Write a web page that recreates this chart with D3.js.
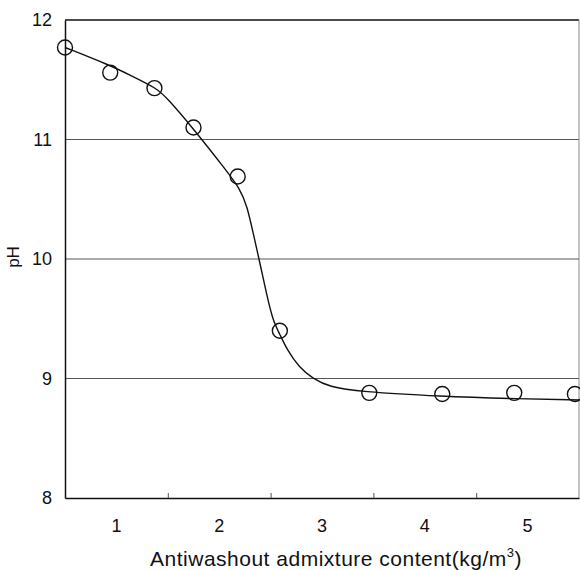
<!DOCTYPE html>
<html>
<head>
<meta charset="utf-8">
<script src="https://cdn.jsdelivr.net/npm/d3@7"></script>
<style>
  body { margin: 0; background: #fff; }
  svg { font-family: "Liberation Sans", Arial, sans-serif; }
</style>
</head>
<body>
<div id="chart"></div>
<script>
// measured points (admixture content kg/m3, pH)
var pointX = [0.5, 0.94, 1.37, 1.75, 2.18, 2.59, 3.46, 4.17, 4.87, 5.46];
var pointY = [11.77, 11.56, 11.43, 11.10, 10.69, 9.40, 8.88, 8.87, 8.88, 8.87];

// fitted curve
var curveX = [0.5, 0.5, 0.94, 1.13, 1.39, 1.49, 1.74, 2.07, 2.20, 2.27, 2.34, 2.39, 2.46, 2.52, 2.59, 2.66, 2.78, 2.91, 3.07, 3.36, 4.15, 4.92, 5.5, 5.5];
var curveY = [11.77, 11.77, 11.62, 11.54, 11.43, 11.35, 11.10, 10.74, 10.59, 10.45, 10.18, 9.99, 9.71, 9.49, 9.37, 9.24, 9.09, 9.00, 8.93, 8.89, 8.85, 8.83, 8.82, 8.82];

var xLabels = [1, 2, 3, 4, 5];
var xMinorTicks = [1.5, 2.5, 3.5, 4.5];
var yLabels = [8, 9, 10, 11, 12];
var gridValues = [9, 10, 11];

var margin = { top: 20, right: 1, bottom: 72, left: 65 },
  width = 580 - margin.left - margin.right,
  height = 570 - margin.top - margin.bottom;

var svg = d3.select('#chart')
  .append('svg')
  .attr('width', 580)
  .attr('height', 570)
  .append('g')
  .attr('transform', `translate(${margin.left},${margin.top})`);

var x = d3.scaleLinear().domain([0.5, 5.5]).range([0, width]);
var y = d3.scaleLinear().domain([8, 12]).range([height, 0]);

// grid lines
svg.append('g')
  .selectAll('line')
  .data(gridValues)
  .join('line')
  .attr('x1', 0)
  .attr('x2', width)
  .attr('y1', d => y(d))
  .attr('y2', d => y(d))
  .attr('stroke', '#555')
  .attr('stroke-width', 1);

// frame
svg.append('line').attr('x1', 0).attr('x2', width).attr('y1', 0).attr('y2', 0)
  .attr('stroke', '#111').attr('stroke-width', 1.5);
svg.append('line').attr('x1', width).attr('x2', width).attr('y1', 0).attr('y2', height)
  .attr('stroke', '#888').attr('stroke-width', 1);

// x axis: labels on integers, small inward ticks at halves
var xAxis = d3.axisBottom(x).tickValues(xMinorTicks).tickSizeInner(-5).tickSizeOuter(0).tickFormat('');
svg.append('g')
  .attr('class', 'x axis')
  .attr('transform', `translate(0,${height})`)
  .call(xAxis)
  .call(g => g.select('.domain').attr('stroke', '#111').attr('stroke-width', 1.5))
  .call(g => g.selectAll('.tick line').attr('stroke', '#555'));

svg.append('g')
  .selectAll('text')
  .data(xLabels)
  .join('text')
  .attr('x', d => x(d))
  .attr('y', height + 34)
  .attr('text-anchor', 'middle')
  .attr('font-size', 18)
  .attr('fill', '#111')
  .text(d => d);

// y axis
var yAxis = d3.axisLeft(y).tickValues(yLabels).tickSize(0).tickPadding(13).tickFormat(d3.format('d'));
svg.append('g')
  .attr('class', 'y axis')
  .call(yAxis)
  .call(g => g.select('.domain').attr('stroke', '#111').attr('stroke-width', 1.5))
  .call(g => g.selectAll('.tick text').attr('font-size', 18).attr('fill', '#111')
    .attr('font-family', '"Liberation Sans", Arial, sans-serif'));

// fitted curve
var pts = curveX.map((v, i) => [v, curveY[i]]);
var line = d3.line()
  .x(d => x(d[0]))
  .y(d => y(d[1]))
  .curve(d3.curveBasis);

svg.append('path')
  .attr('d', line(pts))
  .attr('fill', 'none')
  .attr('stroke', '#111')
  .attr('stroke-width', 1.4);

// markers
svg.append('g')
  .selectAll('circle')
  .data(pointX.map((v, i) => [v, pointY[i]]))
  .join('circle')
  .attr('cx', d => x(d[0]))
  .attr('cy', d => y(d[1]))
  .attr('r', 7.5)
  .attr('fill', 'none')
  .attr('stroke', '#111')
  .attr('stroke-width', 1.4);

// axis titles
svg.append('text')
  .attr('x', 336 - margin.left)
  .attr('y', height + 68)
  .attr('text-anchor', 'middle')
  .attr('font-size', 21)
  .attr('letter-spacing', 0.5)
  .attr('fill', '#111')
  .text('Antiwashout admixture content(kg/m')
  .append('tspan')
  .attr('dy', -9)
  .attr('font-size', 13)
  .text('3')
  .clone(true)
  .attr('dy', 9)
  .attr('font-size', 21)
  .text(')');

svg.append('text')
  .attr('transform', 'rotate(-90)')
  .attr('x', -(257 - margin.top))
  .attr('y', -margin.left + 18.5)
  .attr('text-anchor', 'middle')
  .attr('font-size', 17)
  .attr('fill', '#111')
  .text('pH');
</script>
</body>
</html>
